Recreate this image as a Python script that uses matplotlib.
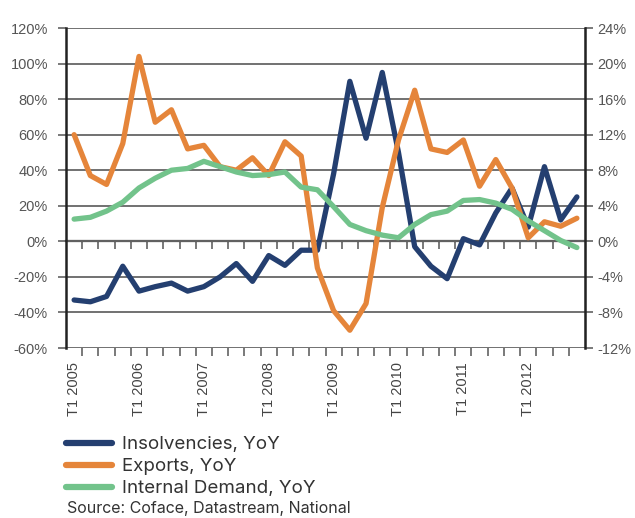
import matplotlib.pyplot as plt
import numpy as np

# quarterly data, T1 2005 .. T4 2012
quarters = [f"T{q} {y}" for y in range(2005, 2013) for q in range(1, 5)]
year_labels = ["T1 2005", "T1 2006", "T1 2007", "T1 2008",
               "T1 2009", "T1 2010", "T1 2011", "T1 2012"]

# left axis (%)
insolvencies = [-33, -34, -31, -14, -28, -25.5, -23.5, -28, -25.5, -20, -12.5, -22.5,
                -8, -13.5, -5, -5, 38, 90, 58, 95, 50, -3, -14, -21,
                1.5, -2, 16, 30, 8, 42, 12, 25]
# right axis (%)
exports = [12, 7.4, 6.4, 11, 20.8, 13.4, 14.8, 10.4, 10.8, 8.4, 8, 9.4,
           7.4, 11.2, 9.6, -3, -7.8, -10, -7, 3.8, 11.4, 17, 10.4, 10,
           11.4, 6.2, 9.2, 6, 0.4, 2.2, 1.7, 2.6]
internal_demand = [2.5, 2.7, 3.4, 4.4, 6.0, 7.1, 8.0, 8.2, 9.0, 8.4, 7.8, 7.4,
                   7.5, 7.8, 6.1, 5.8, 3.9, 1.9, 1.2, 0.7, 0.4, 1.9, 3.0, 3.4,
                   4.6, 4.7, 4.3, 3.6, 2.3, 1.2, 0.1, -0.7]

c_blue = '#243f70'
c_orange = '#e5853a'
c_green = '#72c38b'
axis_font = ['Liberation Sans Narrow', 'Liberation Sans', 'DejaVu Sans']
legend_font = ['Inter', 'DejaVu Sans']

x = np.arange(len(quarters))

fig = plt.figure(figsize=(6.35, 5.18), dpi=100)
ax = fig.add_axes([66/635, 1 - 348/518, (585 - 66)/635, 320/518])

ax.plot(x, insolvencies, color=c_blue, lw=3.8, solid_joinstyle='round',
        solid_capstyle='round', label='Insolvencies, YoY', zorder=3)
ax.set_ylim(-60, 120)
ax.set_yticks(np.arange(-60, 121, 20))
ax.set_yticklabels([f"{v}%" for v in range(-60, 121, 20)],
                   family=axis_font, fontsize=10.5, color='#555555')
ax.grid(axis='y', color='#666666', lw=1.3, zorder=0)
ax.set_xlim(-0.5, len(quarters) - 0.5)

# year labels at the first quarter, tick marks at category boundaries
ax.set_xticks(x[::4])
ax.set_xticklabels(year_labels, rotation=90, family=axis_font, fontsize=10.5, color='#444444')
ax.set_xticks(x[:-1] + 0.5, minor=True)
ax.tick_params(axis='x', which='major', length=0, pad=10)
ax.tick_params(axis='x', which='minor', length=6, width=1.1, color='#555555', direction='out')
ax.tick_params(axis='y', length=6, width=1.1, color='#555555', pad=7)

for side in ['top', 'bottom']:
    ax.spines[side].set_visible(False)
ax.spines['left'].set_linewidth(1.8)
ax.spines['left'].set_color('#222222')

ax2 = ax.twinx()
ax2.plot(x, exports, color=c_orange, lw=3.8, solid_joinstyle='round',
         solid_capstyle='round', label='Exports, YoY')
ax2.plot(x, internal_demand, color=c_green, lw=3.8, solid_joinstyle='round',
         solid_capstyle='round', label='Internal Demand, YoY')
ax2.set_ylim(-12, 24)
ax2.set_yticks(np.arange(-12, 25, 4))
ax2.set_yticklabels([f"{v}%" for v in range(-12, 25, 4)],
                    family=axis_font, fontsize=10.5, color='#555555')
ax2.tick_params(axis='y', length=6, width=1.1, color='#555555', pad=3)
for side in ['top', 'bottom', 'left']:
    ax2.spines[side].set_visible(False)
ax2.spines['right'].set_linewidth(1.8)
ax2.spines['right'].set_color('#222222')

# category axis crossing at 0%
sec = ax.secondary_xaxis(1/3)
sec.set_xticks(x[:-1] + 0.5)
sec.tick_params(axis='x', length=6, width=1.1, color='#555555', direction='out',
                labelbottom=False, labeltop=False)
for sp in sec.spines.values():
    sp.set_color('#333333')
    sp.set_linewidth(1.6)

h1, l1 = ax.get_legend_handles_labels()
h2, l2 = ax2.get_legend_handles_labels()
leg = fig.legend(h1 + h2, l1 + l2, loc='upper left', bbox_to_anchor=(66/635, 1 - 436/518),
                 frameon=False, prop={'family': legend_font, 'size': 13.5},
                 handlelength=2.45, handletextpad=0.53, labelspacing=0.27, borderpad=0,
                 borderaxespad=0)
for line in leg.get_lines():
    line.set_linewidth(4.5)
for t in leg.get_texts():
    t.set_color('#333333')

fig.text(67/635, 1 - 509/518, 'Source: Coface, Datastream, National',
         family=legend_font, fontsize=11.5, color='#333333', va='center')

fig.savefig('out.png', dpi=100)
